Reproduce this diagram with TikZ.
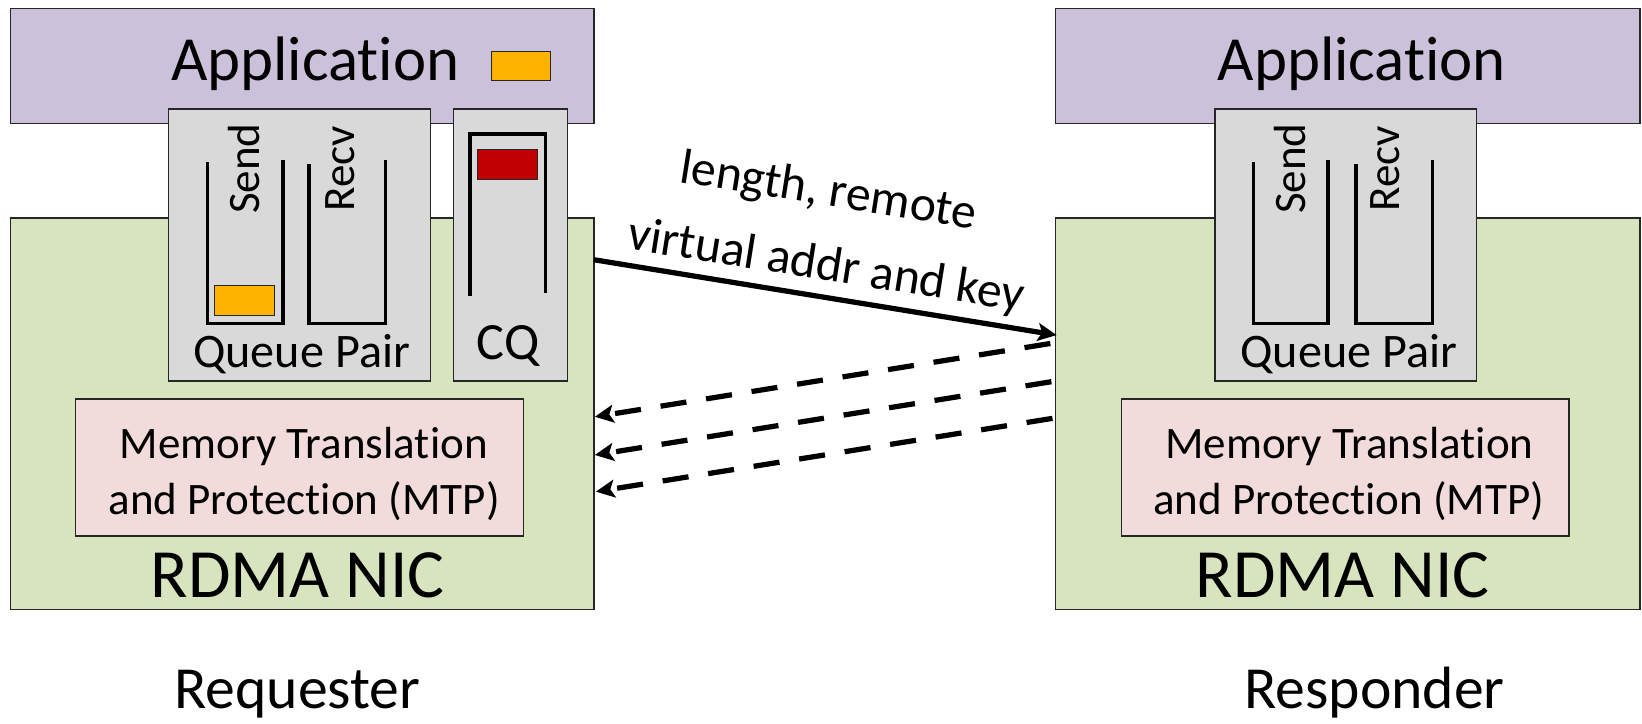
\documentclass[tikz,border=0pt]{standalone}
\usepackage{fontspec}
\setmainfont{Carlito}[Ligatures=NoCommon]
\usetikzlibrary{arrows.meta}
\definecolor{appfill}{HTML}{CCC1DA}
\definecolor{nicfill}{HTML}{D7E4BD}
\definecolor{qpfill}{HTML}{D9D9D9}
\definecolor{mtpfill}{HTML}{F2DCDB}
\definecolor{tokorange}{HTML}{FFB300}
\definecolor{tokred}{HTML}{C00000}
\definecolor{edge}{HTML}{262626}
\newcommand\FApp{\fontsize{60}{70}\selectfont}
\newcommand\FNIC{\fontsize{66}{76}\selectfont}
\newcommand\FQP{\fontsize{46}{54}\selectfont}
\newcommand\FCQ{\fontsize{50}{58}\selectfont}
\newcommand\FMTP{\fontsize{43}{50}\selectfont}
\newcommand\FRole{\fontsize{57}{66}\selectfont}
\newcommand\FLab{\fontsize{47.5}{56}\selectfont}
\newcommand\FQ{\fontsize{43}{50}\selectfont}
\begin{document}
\begin{tikzpicture}[x=1pt,y=-1pt,
  box/.style={draw=edge, line width=1.5pt, inner sep=0pt, anchor=center},
  appbox/.style={box, fill=appfill, minimum width=557pt, minimum height=110pt},
  nicbox/.style={box, fill=nicfill, minimum width=557pt, minimum height=374pt},
  qpbox/.style={box, fill=qpfill, minimum width=250pt, minimum height=260pt},
  cqbox/.style={box, fill=qpfill, minimum width=109pt, minimum height=260pt},
  mtpbox/.style={box, fill=mtpfill, minimum width=428pt, minimum height=131pt},
  lbl/.style={inner sep=0pt, anchor=base, text=black},
  qlbl/.style={inner sep=0pt, anchor=center, text=black, font=\FQ},
  lablbl/.style={inner sep=0pt, anchor=center, text=black, font=\FLab},
  qline/.style={line width=3.5pt, line cap=butt, draw=black},
  tok/.style={draw=edge, line width=1pt, minimum width=57pt, minimum height=28pt, inner sep=0pt, anchor=center},
  req/.style={-{Stealth[length=18pt,width=17pt,inset=4pt]}, line width=5pt, draw=black},
  resp/.style={req, dash pattern=on 25pt off 19pt},
]
\useasboundingbox (0,0) rectangle (1568,691);

% ---------------- Requester ----------------
\node[appbox] (appL) at (288.5,63) {};
\node[nicbox] (nicL) at (288.5,395) {};
\node[qpbox] (qpL) at (286,234) {};
\node[cqbox] (cqL) at (487.5,234) {};
\node[mtpbox] (mtpL) at (286,446.5) {};
\node[lbl, font=\FApp] (appLt) at (301,77) {Application};
\node[tok, fill=tokorange] (appTok) at (497.5,63) {};
\draw[qline] (198,155) -- (198,309) -- (270,309) -- (270,153);
\node[tok, fill=tokorange] (sendTok) at (233.5,287) {};
\draw[qline] (295,157) -- (295,309) -- (368,309) -- (368,153);
\node[qlbl, rotate=90] (sendL) at (233,161) {Send};
\node[qlbl, rotate=90] (recvL) at (325,161) {Recv};
\node[lbl, font=\FQP] (qpLt) at (288,351) {Queue Pair};
\draw[qline] (449,283) -- (449,128) -- (521,128) -- (521,280);
\node[tok, fill=tokred] (cqTok) at (484.5,157) {};
\node[lbl, font=\FCQ] (cqLt) at (485,343) {CQ};
\node[lbl, font=\FMTP] (mtpL1) at (290,438) {Memory Translation};
\node[lbl, font=\FMTP] (mtpL2) at (290.5,491) {and Protection (MTP)};
\node[lbl, font=\FNIC] (nicLt) at (284,571) {RDMA NIC};
\node[lbl, font=\FRole] (reqT) at (284,677) {Requester};

% ---------------- Responder ----------------
\node[appbox, minimum width=558pt] (appR) at (1287,63) {};
\node[nicbox, minimum width=558pt] (nicR) at (1287,395) {};
\node[qpbox] (qpR) at (1285,234) {};
\node[mtpbox, minimum width=427pt] (mtpR) at (1284.5,446.5) {};
\node[lbl, font=\FApp] (appRt) at (1300.5,77) {Application};
\draw[qline] (1197,155) -- (1197,309) -- (1268,309) -- (1268,153);
\draw[qline] (1295,157) -- (1295,309) -- (1368,309) -- (1368,153);
\node[qlbl, rotate=90] (sendR) at (1232,161) {Send};
\node[qlbl, rotate=90] (recvR) at (1323,161) {Recv};
\node[lbl, font=\FQP] (qpRt) at (1288,351) {Queue Pair};
\node[lbl, font=\FMTP] (mtpR1) at (1288.5,438) {Memory Translation};
\node[lbl, font=\FMTP] (mtpR2) at (1288,491) {and Protection (MTP)};
\node[lbl, font=\FNIC] (nicRt) at (1282,571) {RDMA NIC};
\node[lbl, font=\FRole] (respT) at (1312.5,677) {Responder};

% ---------------- Connectors ----------------
\coordinate (s1) at (567,248);
\coordinate (e1) at (1009,320);
\draw[req] (s1) -- (e1);
\node[lablbl, rotate=-9] (lab1) at (791,184) {length, remote};
\node[lablbl, rotate=-9] (lab2) at (789,255) {virtual addr and key};

\coordinate (d1s) at (1003,328);
\coordinate (d1e) at (568,398);
\coordinate (d2s) at (1004,364.5);
\coordinate (d2e) at (568,434.5);
\coordinate (d3s) at (1005,399.5);
\coordinate (d3e) at (569,469.5);
\draw[resp] (d1s) -- (d1e);
\draw[resp] (d2s) -- (d2e);
\draw[resp] (d3s) -- (d3e);
\end{tikzpicture}
\end{document}
